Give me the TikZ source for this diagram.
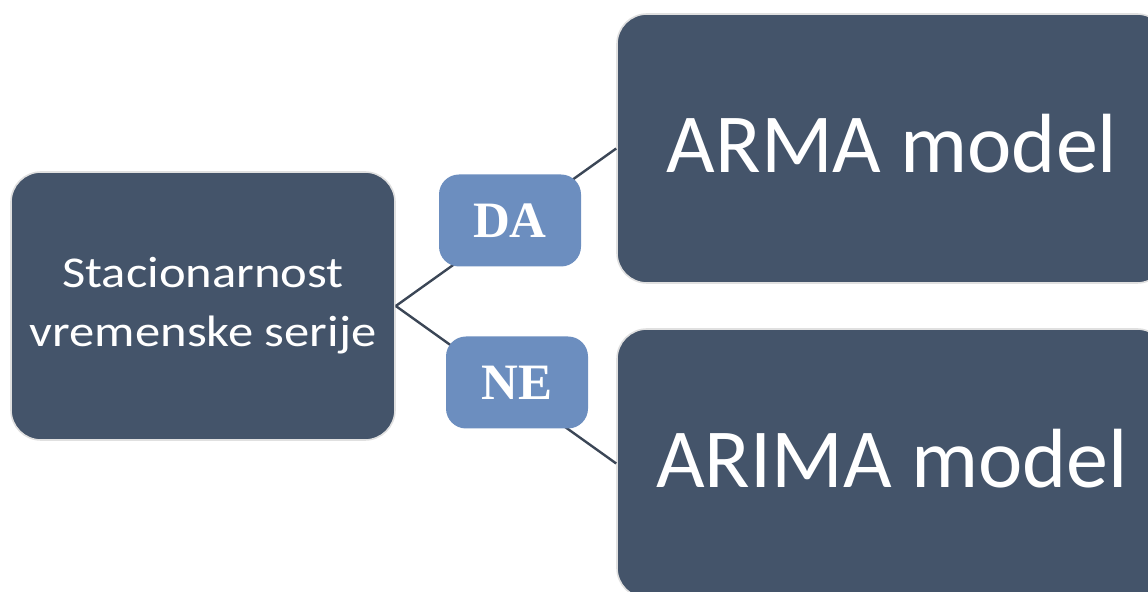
\documentclass[tikz,border=0pt]{standalone}
\usepackage{fontspec}
\setmainfont{Carlito}
\newfontfamily\stretchfont[FakeStretch=1.15]{Carlito}
\newfontfamily\answerfont{Liberation Serif}
\usetikzlibrary{positioning}
\definecolor{boxcolor}{HTML}{44546A}
\definecolor{answercolor}{HTML}{6C8EBF}
\definecolor{linkcolor}{HTML}{3B4656}

\begin{document}
\begin{tikzpicture}[
    x=0.5pt, y=-0.5pt,
    box/.style={rectangle, rounded corners=15pt, draw=black!12, line width=0.8pt, fill=boxcolor, text=white, inner sep=0pt},
    model/.style={box, minimum width=275pt, minimum height=134.5pt, text depth=5pt, font=\fontsize{42}{50}\selectfont},
    answer/.style={rectangle, rounded corners=10pt, fill=answercolor, text=white, minimum width=71pt, minimum height=46pt, font=\answerfont\bfseries\fontsize{25.5}{30}\selectfont},
    link/.style={draw=linkcolor, line width=1.2pt}
]
\clip (0,0) rectangle (1148,592);
\node[box, minimum width=192pt, minimum height=134pt, align=center, font=\stretchfont\fontsize{22}{29.5}\selectfont] (serie) at (203,306) {Stacionarnost\\vremenske serije};
\node[model] (arma) at (892,148.5) {ARMA model};
\node[model] (arima) at (892,463.5) {ARIMA model};

\draw[link] (serie.east) -- (arma.west);
\draw[link] (serie.east) -- (arima.west);

\node[answer] (da) at (510,220.5) {DA};
\node[answer] (ne) at (517,382.5) {NE};
\end{tikzpicture}
\end{document}
